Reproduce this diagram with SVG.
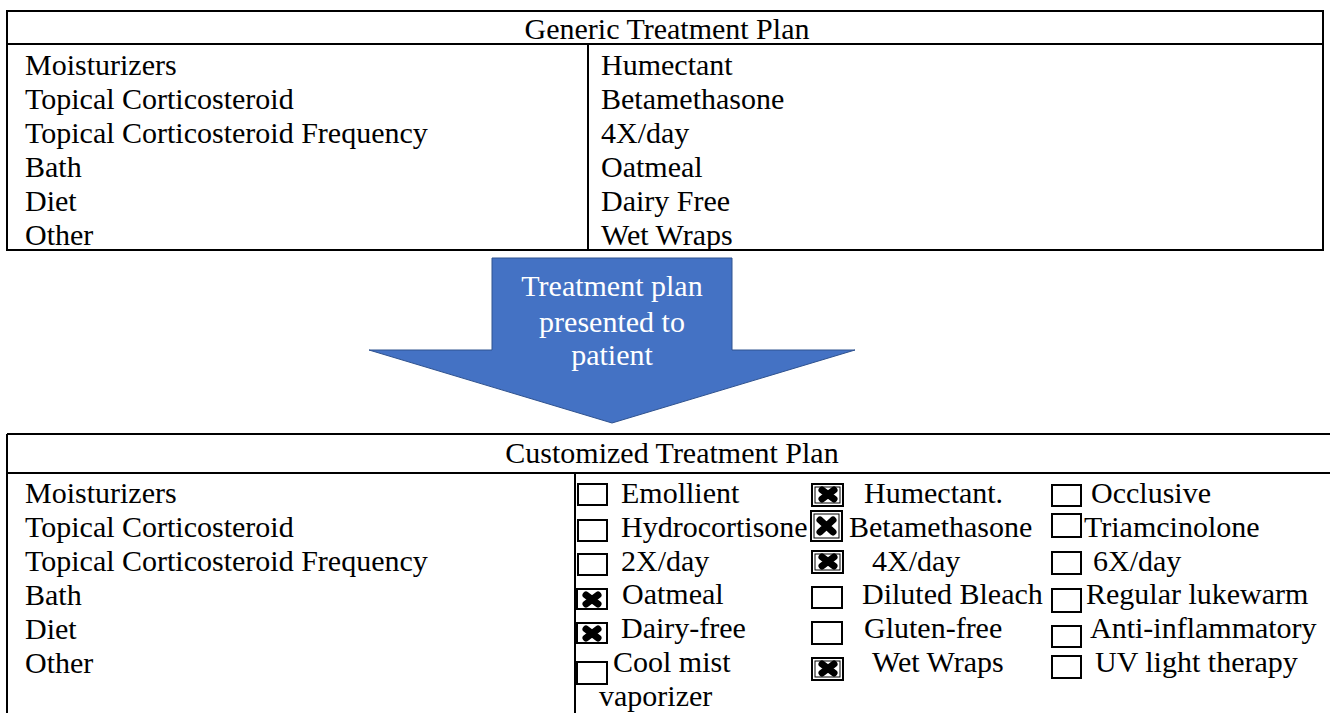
<svg xmlns="http://www.w3.org/2000/svg" width="1330" height="713" viewBox="0 0 1330 713">
<style>
text{font-family:"Liberation Serif","Times New Roman",serif;font-size:30px;fill:#000}
.c{text-anchor:middle}
.w{fill:#fff}
.ln{stroke:#000;stroke-width:2;fill:none}
.bx{fill:#fff;stroke:#000;stroke-width:2}
.ib{fill:none;stroke:#000;stroke-width:1}
.x{stroke:#000;stroke-width:7;stroke-linecap:round;fill:none}
</style>
<defs>
<g id="xm"><path class="x" d="M9,7 L21,16 M21,7 L9,16"/></g>
</defs>
<rect width="1330" height="713" fill="#fff"/>

<g id="generic-plan">
<rect class="ln" x="7" y="11" width="1316" height="239"/>
<line class="ln" x1="7" y1="44" x2="1323" y2="44"/>
<line class="ln" x1="588" y1="44" x2="588" y2="250"/>
<text class="c" x="667" y="39">Generic Treatment Plan</text>
<text x="25" y="75">Moisturizers</text>
<text x="25" y="109">Topical Corticosteroid</text>
<text x="25" y="143">Topical Corticosteroid Frequency</text>
<text x="25" y="177">Bath</text>
<text x="25" y="211">Diet</text>
<text x="25" y="245">Other</text>
<text x="601" y="75">Humectant</text>
<text x="601" y="109">Betamethasone</text>
<text x="601" y="143">4X/day</text>
<text x="601" y="177">Oatmeal</text>
<text x="601" y="211">Dairy Free</text>
<text x="601" y="245">Wet Wraps</text>
</g>

<g id="connectors">
<g id="arrow">
<polygon points="492,258 732,258 732,350 855,350 612,423 369,350 492,350" fill="#4472C4" stroke="#2F528F" stroke-width="1"/>
<text class="c w" x="612" y="296">Treatment plan</text>
<text class="c w" x="612" y="332">presented to</text>
<text class="c w" x="612" y="365">patient</text>
</g>
</g>

<g id="customized-plan">
<line class="ln" x1="7" y1="434" x2="1330" y2="434"/>
<line class="ln" x1="7" y1="473" x2="1330" y2="473"/>
<line class="ln" x1="7" y1="434" x2="7" y2="713"/>
<line class="ln" x1="575" y1="473" x2="575" y2="713"/>
<text class="c" x="672" y="463">Customized Treatment Plan</text>
<text x="25" y="503">Moisturizers</text>
<text x="25" y="537">Topical Corticosteroid</text>
<text x="25" y="571">Topical Corticosteroid Frequency</text>
<text x="25" y="605">Bath</text>
<text x="25" y="639">Diet</text>
<text x="25" y="673">Other</text>
</g>

<g id="option-col1">
<rect class="bx" x="578" y="484" width="29" height="21"/>
<rect class="bx" x="578" y="520" width="29" height="21"/>
<rect class="bx" x="578" y="554" width="29" height="21"/>
<rect class="bx" x="577" y="589" width="30" height="20"/>
<use href="#xm" x="577" y="588"/>
<rect class="bx" x="577" y="623" width="30" height="20"/>
<use href="#xm" x="577" y="622"/>
<rect class="bx" x="577" y="662" width="30" height="22"/>
<text x="621" y="503">Emollient</text>
<text x="621" y="537">Hydrocortisone</text>
<text x="621" y="571">2X/day</text>
<text x="622" y="604">Oatmeal</text>
<text x="621" y="638">Dairy-free</text>
<text x="613" y="672">Cool mist</text>
<text x="599" y="706">vaporizer</text>
</g>

<g id="option-col2">
<rect class="bx" x="812" y="484" width="31" height="22"/>
<rect class="ib" x="815" y="487" width="25" height="16"/>
<use href="#xm" x="813" y="483"/>
<rect class="bx" x="811" y="511" width="31" height="30"/>
<rect class="ib" x="814" y="514" width="25" height="24"/>
<path class="x" d="M820,520 L833,532 M833,520 L820,532"/>
<rect class="bx" x="812" y="551" width="31" height="22"/>
<rect class="ib" x="815" y="554" width="25" height="16"/>
<use href="#xm" x="813" y="550"/>
<rect class="bx" x="812" y="587" width="30" height="21"/>
<rect class="bx" x="812" y="622" width="30" height="22"/>
<rect class="bx" x="812" y="658" width="31" height="22"/>
<rect class="ib" x="815" y="661" width="25" height="16"/>
<use href="#xm" x="813" y="657"/>
<text x="864" y="503">Humectant.</text>
<text x="849" y="537">Betamethasone</text>
<text x="872" y="571">4X/day</text>
<text x="862" y="604">Diluted Bleach</text>
<text x="864" y="638">Gluten-free</text>
<text x="872" y="672">Wet Wraps</text>
</g>

<g id="option-col3">
<rect class="bx" x="1052" y="485" width="29" height="21"/>
<rect class="bx" x="1052" y="514" width="29" height="23"/>
<rect class="bx" x="1052" y="552" width="29" height="22"/>
<rect class="bx" x="1052" y="589" width="29" height="23"/>
<rect class="bx" x="1052" y="626" width="29" height="21"/>
<rect class="bx" x="1052" y="656" width="29" height="22"/>
<text x="1091" y="503">Occlusive</text>
<text x="1084" y="537">Triamcinolone</text>
<text x="1093" y="571">6X/day</text>
<text x="1086" y="604">Regular lukewarm</text>
<text x="1090" y="638">Anti-inflammatory</text>
<text x="1095" y="672">UV light therapy</text>
</g>
</svg>
